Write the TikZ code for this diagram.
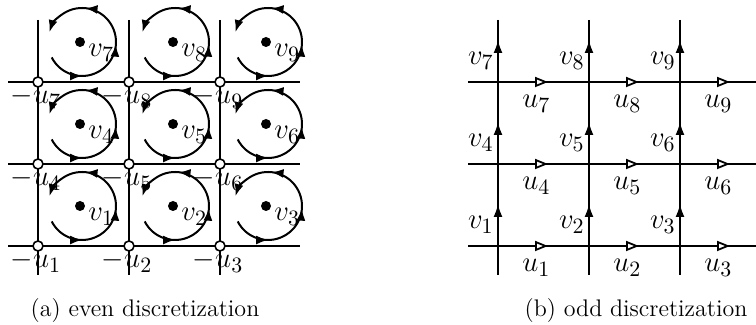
\documentclass[tikz,border=0pt]{standalone}
\usepackage{amsmath}
\usetikzlibrary{calc, positioning}
\usetikzlibrary{arrows.meta}
\usetikzlibrary{decorations.markings}

\tikzset{
  gridline/.style={line width=1pt},
  site/.style={circle, draw, fill=white, line width=0.8pt, inner sep=0pt, minimum size=5pt},
  lbl/.style={font=\fontsize{15.5}{18}\selectfont, inner sep=0pt},
  captext/.style={font=\fontsize{12}{14}\selectfont, inner sep=0pt},
  vortex/.style={line width=1pt,
    decoration={markings,
      mark=at position 0.2 with {\arrow{Latex[length=6pt,width=4.5pt]}},
      mark=at position 0.47 with {\arrow{Latex[length=6pt,width=4.5pt]}},
      mark=at position 0.75 with {\arrow{Latex[length=6pt,width=4.5pt]}}},
    postaction={decorate}, -{Latex[length=6pt,width=4.5pt]}},
  upflow/.style={line width=1pt, -{Latex[length=6.5pt,width=4.5pt]}},
  rightflow/.style={line width=1pt, -{Triangle[open,length=6.5pt,width=5pt,fill=white,line width=0.9pt]}}
}

\begin{document}
\begin{tikzpicture}[x=0.5pt, y=0.5pt]
\def\xa{38}   % first vertical line, even grid
\def\xb{498}  % first vertical line, odd grid
\def\yb{79}   % bottom horizontal line
\def\dx{91}
\def\dy{82}
\def\rad{34}

\useasboundingbox (0,0) rectangle (756,325);

% even discretization
\foreach \i in {0,1,2} {
  \coordinate (ET\i) at ({\xa+\i*\dx},305);
  \coordinate (EB\i) at ({\xa+\i*\dx},50);
  \draw[gridline] (ET\i) -- (EB\i);
}
\foreach \j in {0,1,2} {
  \coordinate (EL\j) at (8,{\yb+\j*\dy});
  \coordinate (ER\j) at (300,{\yb+\j*\dy});
  \draw[gridline] (EL\j) -- (ER\j);
}
\foreach \j in {0,1,2} {
  \foreach \i in {0,1,2} {
    \pgfmathtruncatemacro{\k}{3*\j+\i+1}
    \coordinate (E\k) at ({\xa+\i*\dx},{\yb+\j*\dy});
    \coordinate (D\k) at ({80+93*\i},{\yb+40+\j*\dy});
    \coordinate (C\k) at ($(D\k)+(2,0)$);
    \draw[vortex] ($(C\k)+(207:\rad)$) arc[start angle=207, end angle=523, radius=\rad];
    \fill (D\k) circle[radius=5];
    \node[site] (s\k) at (E\k) {};
    \node[lbl, anchor=base west] (ev\k) at ($(D\k)+(8,-15)$) {$v_{\k}$};
    \node[lbl, anchor=base] (eu\k) at ($(E\k)+(-2,-22)$) {$-u_{\k}$};
  }
}

% odd discretization
\foreach \i in {0,1,2} {
  \coordinate (OT\i) at ({\xb+\i*\dx},305);
  \coordinate (OB\i) at ({\xb+\i*\dx},50);
  \draw[gridline] (OT\i) -- (OB\i);
}
\foreach \j in {0,1,2} {
  \coordinate (OL\j) at (468,{\yb+\j*\dy});
  \coordinate (OR\j) at (756,{\yb+\j*\dy});
  \draw[gridline] (OL\j) -- (OR\j);
}
\foreach \j in {0,1,2} {
  \foreach \i in {0,1,2} {
    \pgfmathtruncatemacro{\k}{3*\j+\i+1}
    \coordinate (O\k) at ({\xb+\i*\dx},{\yb+\j*\dy});
    \coordinate (Ov\k) at ($(O\k)+(0,42)$);
    \coordinate (Ou\k) at ($(O\k)+(50,0)$);
    \draw[upflow] (O\k) -- (Ov\k);
    \draw[rightflow] (O\k) -- (Ou\k);
    \node[lbl, anchor=base east] (ov\k) at ($(O\k)+(-4,17)$) {$v_{\k}$};
    \node[lbl, anchor=base west] (ou\k) at ($(O\k)+(24,-26)$) {$u_{\k}$};
  }
}

\node[captext, anchor=base] (capa) at (145,8) {(a) even discretization};
\node[captext, anchor=base] (capb) at (636,8) {(b) odd discretization};
\end{tikzpicture}
\end{document}
